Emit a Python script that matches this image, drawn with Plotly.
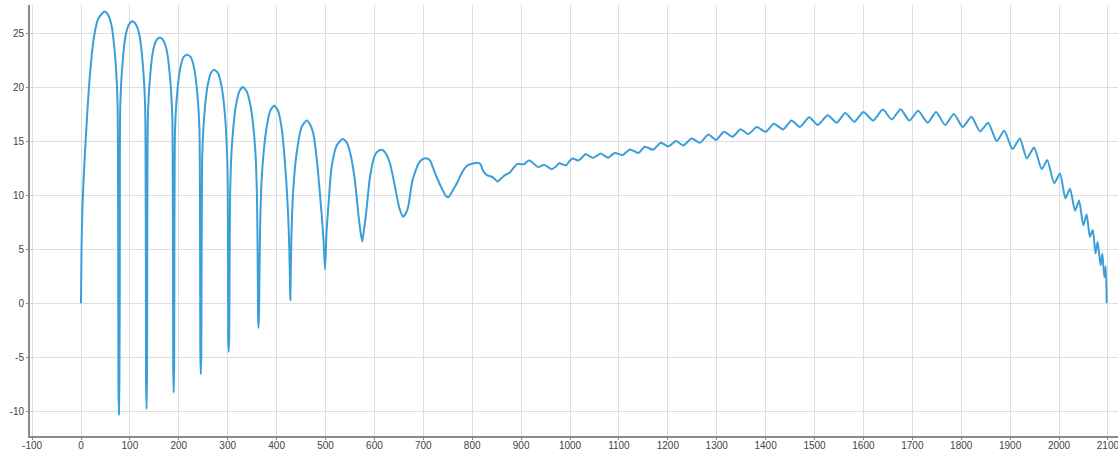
import plotly.graph_objects as go

# ---- data ----
x_vals = [
    0, 1, 3, 7, 12, 18, 26, 35, 47.7,
    55.2, 62.6, 70, 74.5, 75.5, 76.2, 76.5, 77.5,
    78.5, 79.3, 79.5, 80.3, 84.4, 91.3, 98.1, 105,
    112.3, 119.5, 126.8, 131.1, 132, 132.7, 133, 134,
    135, 135.3, 136, 136.7, 140.8, 147.5, 154.3, 161,
    168.1, 175.3, 182.4, 186.7, 187.5, 188.2, 188.5, 189.5,
    190.5, 190.8, 191.5, 192.3, 196.4, 203.3, 210.1, 217,
    224, 231, 238, 242.2, 243, 243.7, 244, 245,
    246, 246.5, 247.3, 247.8, 251.9, 258.8, 265.6, 272.5,
    279.9, 287.3, 294.6, 299, 300, 300.8, 301, 302,
    303, 303.7, 304.9, 307.8, 312.2, 316.5, 323.8, 331,
    339, 347, 351.8, 356.6, 359.8, 361.5, 362, 363,
    364, 365, 366.5, 369.5, 374, 380, 387, 395,
    403, 410, 415, 419.5, 423.5, 426, 427.3, 428,
    429, 430.5, 434, 441, 451, 461.5, 469, 475, 480, 485, 492, 496, 499,
    502, 505.7, 512.5, 523, 535, 543, 550, 560, 567, 571, 575,
    579, 583, 591, 601, 608, 616, 624, 632, 642, 651, 659,
    664, 669, 678, 690, 698, 707, 714, 720, 727, 738, 745, 751,
    761, 772, 778, 785, 792, 800, 809, 816, 823, 830, 840, 846, 852, 858,
    867, 877, 884, 893, 900, 907, 912, 918, 926, 935, 941, 947.5, 955,
    962.5, 970, 978, 985, 992, 998, 1005.5, 1011, 1017, 1025, 1032, 1040,
    1047.7, 1055, 1062.7, 1070, 1078, 1085, 1092, 1100, 1107.7,
    1122.7, 1139.8, 1153, 1170.4, 1185.5, 1201, 1216.8, 1231.7, 1248.8,
    1265.8, 1283, 1298.6, 1315, 1332, 1349, 1364.6, 1382, 1400, 1417,
    1436, 1453, 1470, 1489, 1506.5, 1527, 1545.4, 1563, 1581.4, 1600,
    1620, 1639.5, 1658, 1676, 1694, 1712, 1731.5, 1748.5, 1767, 1785,
    1803, 1821, 1838.4, 1855, 1872.6, 1888, 1905, 1920, 1934, 1949,
    1964.6, 1976, 1990, 2002, 2013, 2022.5, 2032.7, 2041, 2049.7, 2056.6,
    2063, 2069, 2074.6, 2079, 2085, 2088.6, 2092.6, 2095.5, 2097.5,
]
y_vals = [
    0, 5, 9, 13, 17, 21, 24.5, 26.3, 27.0,
    26.7, 25.65, 22.7, 18.9, 14.85, 2.7, -7.2, -10.3,
    -7.2, 2.6, 14.4, 18.3, 21.9, 24.8, 25.8, 26.1,
    25.8, 24.8, 21.9, 18.3, 14.4, 2.6, -6.9, -9.8,
    -6.9, 2.5, 13.5, 17.2, 20.7, 23.4, 24.35, 24.6,
    24.35, 23.4, 20.7, 17.2, 13.5, 2.5, -5.8, -8.3,
    -5.8, 2.3, 12.7, 16.1, 19.3, 21.85, 22.8, 23.0,
    22.8, 21.85, 19.3, 16.1, 12.7, 2.3, -4.6, -6.6,
    -4.6, 2.2, 11, 13.4, 17.3, 20.1, 21.3, 21.6,
    21.3, 20.1, 17.3, 13.4, 11, 2.2, -3.2, -4.5,
    -3.2, 2, 10, 14, 16.6, 18.2, 19.6, 20.0,
    19.6, 18.2, 16.6, 14, 10, 3, -1, -2.3,
    -1, 3, 7.5, 11.5, 14.2, 16.4, 17.8, 18.3,
    17.8, 16.3, 14.2, 11.5, 8.3, 5, 2, 0.3,
    3, 6.5, 10.5, 13.9, 16.3, 16.9, 16.5, 15.7, 14.2, 12.0, 8.3, 5.8, 3.1,
    6.5, 8.9, 12.6, 14.6, 15.2, 14.9, 14.0, 11.4, 8.3, 6.8, 5.7,
    6.9, 8.3, 11.7, 13.7, 14.1, 14.2, 13.8, 12.9, 10.8, 8.8, 8.0,
    8.3, 8.9, 11.4, 12.9, 13.3, 13.4, 13.2, 12.5, 11.7, 10.6, 10.0, 9.8,
    10.5, 11.4, 12.0, 12.5, 12.8, 12.9, 13.0, 12.9, 12.2, 11.85, 11.7, 11.5, 11.25, 11.5,
    11.85, 12.1, 12.5, 12.9, 12.85, 12.87, 13.1, 13.2, 12.9, 12.6, 12.7, 12.8, 12.6,
    12.4, 12.6, 12.95, 12.85, 12.75, 13.1, 13.4, 13.3, 13.2, 13.5, 13.8, 13.6,
    13.45, 13.65, 13.86, 13.65, 13.45, 13.7, 13.9, 13.8, 13.7,
    14.23, 13.9, 14.47, 14.2, 14.85, 14.5, 15.0, 14.6, 15.25,
    14.85, 15.6, 15.1, 15.86, 15.4, 16.1, 15.65, 16.3, 15.86, 16.6,
    16.08, 16.9, 16.3, 17.2, 16.5, 17.4, 16.7, 17.6, 16.8, 17.7,
    16.9, 17.93, 17.0, 17.96, 16.9, 17.8, 16.7, 17.7, 16.5, 17.5,
    16.3, 17.25, 15.9, 16.7, 15.0, 15.95, 14.26, 15.25, 13.4, 14.4,
    12.4, 13.24, 11.1, 12.0, 9.7, 10.6, 8.55, 9.5, 7.2, 8.2,
    6.14, 6.76, 4.6, 5.68, 3.5, 4.6, 2.4, 3.4, 0,
]

x_ticks = [-100, 0, 100, 200, 300, 400, 500, 600, 700, 800, 900, 1000,
           1100, 1200, 1300, 1400, 1500, 1600, 1700, 1800, 1900, 2000, 2100]
x_tick_labels = ["-100", "0", "100", "200", "300", "400", "500", "600", "700",
                 "800", "900", "1000", "1100", "1200", "1300", "1400", "1500",
                 "1600", "1700", "1800", "1900", "2000", "2100"]
y_ticks = [-10, -5, 0, 5, 10, 15, 20, 25]
y_tick_labels = ["-10", "-5", "0", "5", "10", "15", "20", "25"]

fig = go.Figure()
fig.add_trace(go.Scatter(
    x=x_vals, y=y_vals, mode="lines",
    line=dict(color="#3a9fd8", width=2, shape="spline", smoothing=0.6),
    showlegend=False, hoverinfo="skip",
))

fig.update_layout(
    width=1118, height=450,
    margin=dict(l=30, r=0, t=5, b=14, autoexpand=False),
    paper_bgcolor="white", plot_bgcolor="white",
    font=dict(family="Liberation Sans, Arial, sans-serif", size=10, color="#444"),
)
fig.update_xaxes(
    range=[-104.3, 2120.6], tickvals=x_ticks, ticktext=x_tick_labels,
    automargin=False,
    showgrid=True, gridcolor="#dedede", gridwidth=1,
    showline=True, linecolor="#8a8a8a", linewidth=2,
    ticks="outside", ticklen=2, tickcolor="#8a8a8a",
    ticklabelstandoff=-3, ticklabeloverflow="allow",
    zeroline=False, tickfont=dict(size=10, color="#444"),
)
fig.update_yaxes(
    range=[-12.3, 27.6], tickvals=y_ticks, ticktext=y_tick_labels,
    automargin=False,
    showgrid=True, gridcolor="#dedede", gridwidth=1,
    showline=True, linecolor="#8a8a8a", linewidth=2,
    ticks="outside", ticklen=2, tickcolor="#8a8a8a",
    zeroline=False, tickfont=dict(size=10, color="#444"),
)

fig.write_html("out.html", config={"displayModeBar": False})

# remove the browser's default 8px page margin so the figure fills the window
with open("out.html", "r", encoding="utf-8") as f:
    html = f.read()
html = html.replace("<head>", "<head><style>html,body{margin:0;padding:0;overflow:hidden;}</style>", 1)
with open("out.html", "w", encoding="utf-8") as f:
    f.write(html)
